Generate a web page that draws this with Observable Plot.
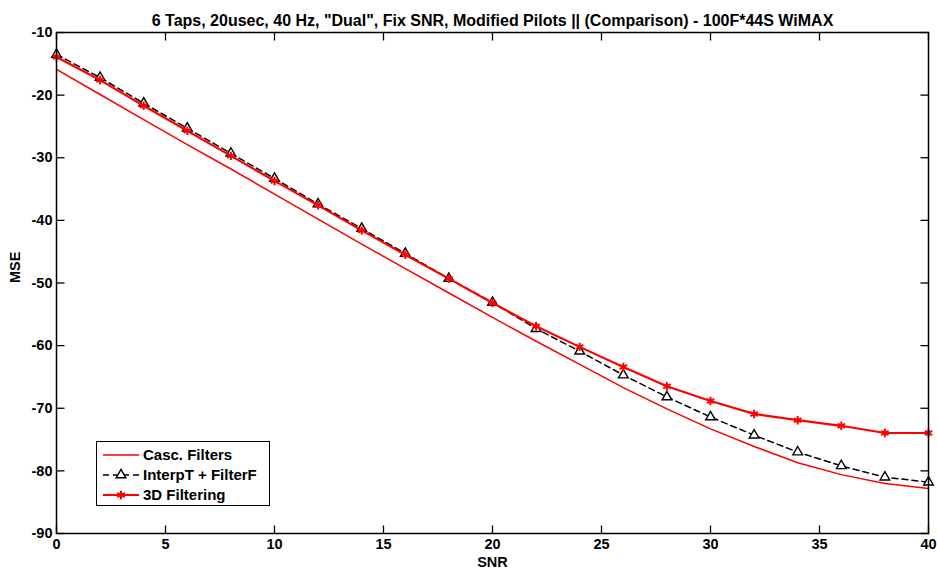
<!DOCTYPE html>
<html><head><meta charset="utf-8">
<script src="https://cdn.jsdelivr.net/npm/d3@7"></script>
<script src="https://cdn.jsdelivr.net/npm/@observablehq/plot@0.6"></script>
<style>
body{margin:0;background:#fff;}
#wrap{position:relative;width:937px;height:575px;font-family:"Liberation Sans",Arial,sans-serif;}
#legend{position:absolute;left:96px;top:441px;width:172px;height:63px;border:1.5px solid #000;background:#fff;font-weight:bold;font-size:15px;color:#000;}
.row{position:absolute;left:0;height:20px;width:172px;}
.row svg{position:absolute;left:0;top:0;}
.row span{position:absolute;left:46px;top:1px;line-height:18px;white-space:nowrap;}
</style></head><body>
<div id="wrap"><div id="legend"></div></div>
<script>
const snr = [0,2,4,6,8,10,12,14,16,18,20,22,24,26,28,30,32,34,36,38,40];
const cascMSE = [-15.9,-19.9,-23.9,-27.9,-31.8,-35.8,-39.8,-43.8,-47.7,-51.6,-55.5,-59.3,-63.0,-66.7,-70.1,-73.3,-76.1,-78.7,-80.6,-82.0,-82.8];
const interpMSE = [-13.5,-17.2,-21.3,-25.3,-29.3,-33.3,-37.4,-41.3,-45.3,-49.3,-53.1,-57.3,-60.9,-64.7,-68.2,-71.4,-74.3,-77.0,-79.2,-81.0,-81.8];
const filt3dMSE = [-13.9,-17.6,-21.7,-25.7,-29.7,-33.7,-37.6,-41.6,-45.5,-49.3,-53.2,-56.9,-60.2,-63.4,-66.5,-68.85,-70.9,-71.9,-72.8,-73.95,-73.95];
const xTicks = [0,5,10,15,20,25,30,35,40];
const yTicks = [-90,-80,-70,-60,-50,-40,-30,-20,-10];
const seriesNames = ["Casc. Filters","InterpT + FilterF","3D Filtering"];
const titleText = '6 Taps, 20usec, 40 Hz, "Dual", Fix SNR, Modified Pilots || (Comparison) - 100F*44S WiMAX';
const xLabel = "SNR";
const yLabel = "MSE";

const casc = snr.map((x,i)=>({x, y: cascMSE[i]}));
const interp = snr.map((x,i)=>({x, y: interpMSE[i]}));
const filt3d = snr.map((x,i)=>({x, y: filt3dMSE[i]}));

const TL = 8;
const tickUp = {draw(c){c.moveTo(0,0);c.lineTo(0,-TL);}};
const tickDown = {draw(c){c.moveTo(0,0);c.lineTo(0,TL);}};
const tickRight = {draw(c){c.moveTo(0,0);c.lineTo(TL,0);}};
const tickLeft = {draw(c){c.moveTo(0,0);c.lineTo(-TL,0);}};

const chart = Plot.plot({
  width: 937, height: 575,
  marginLeft: 56, marginRight: 9, marginTop: 32, marginBottom: 42,
  style: {fontFamily: '"Liberation Sans", Arial, sans-serif', fontSize: "14.5px", fontWeight: "bold", color: "#000", background: "#fff", overflow: "visible"},
  x: {domain: [0, 40]},
  y: {domain: [-90, -10]},
  marks: [
    Plot.line(casc, {x: "x", y: "y", stroke: "#ff0000", strokeWidth: 1.5}),
    Plot.line(interp, {x: "x", y: "y", stroke: "#000", strokeWidth: 1.5, strokeDasharray: "6,4"}),
    Plot.dot(interp, {x: "x", y: "y", symbol: "triangle", r: 3.6, stroke: "#000", fill: "#fff", strokeWidth: 1.4}),
    Plot.line(filt3d, {x: "x", y: "y", stroke: "#ff0000", strokeWidth: 2.2}),
    Plot.dot(filt3d, {x: "x", y: "y", symbol: "asterisk", r: 4, stroke: "#ff0000", strokeWidth: 2}),
    Plot.frame({stroke: "#000", strokeWidth: 1.5}),
    Plot.dot(xTicks, {x: d=>d, frameAnchor: "bottom", symbol: tickUp, stroke: "#000", strokeWidth: 1.3}),
    Plot.dot(xTicks, {x: d=>d, frameAnchor: "top", symbol: tickDown, stroke: "#000", strokeWidth: 1.3}),
    Plot.dot(yTicks, {y: d=>d, frameAnchor: "left", symbol: tickRight, stroke: "#000", strokeWidth: 1.3}),
    Plot.dot(yTicks, {y: d=>d, frameAnchor: "right", symbol: tickLeft, stroke: "#000", strokeWidth: 1.3}),
    Plot.axisX({ticks: xTicks, tickSize: 0, tickPadding: 5, label: null, tickFormat: d=>String(d)}),
    Plot.axisY({ticks: yTicks, tickSize: 0, tickPadding: 4, label: null, tickFormat: d=>String(d)}),
    Plot.text([xLabel], {text: d=>d, frameAnchor: "bottom", dy: 33}),
    Plot.text([yLabel], {text: d=>d, frameAnchor: "left", dx: -41, rotate: -90}),
    Plot.text([titleText], {text: d=>d, frameAnchor: "top", dy: -18, fontSize: 16})
  ]
});
const wrap = document.getElementById("wrap");
wrap.insertBefore(chart, wrap.firstChild);

// legend
const legend = d3.select("#legend");
const rowsY = [3, 23, 43];
const sampleStyles = [
  {stroke: "#ff0000", width: 1.5, dash: null, marker: null},
  {stroke: "#000", width: 1.5, dash: "6,4", marker: "triangle"},
  {stroke: "#ff0000", width: 2.2, dash: null, marker: "asterisk"}
];
seriesNames.forEach((name, i) => {
  const row = legend.append("div").attr("class", "row").style("top", rowsY[i] + "px");
  const s = sampleStyles[i];
  const svg = row.append("svg").attr("width", 46).attr("height", 20);
  svg.append("line").attr("x1", 6).attr("x2", 42).attr("y1", 10).attr("y2", 10)
    .attr("stroke", s.stroke).attr("stroke-width", s.width).attr("stroke-dasharray", s.dash);
  if (s.marker === "triangle") {
    svg.append("path").attr("transform", "translate(24,10)")
      .attr("d", d3.symbol(d3.symbolTriangle, 3.6*3.6*Math.PI)())
      .attr("fill", "#fff").attr("stroke", "#000").attr("stroke-width", 1.4);
  } else if (s.marker === "asterisk") {
    svg.append("path").attr("transform", "translate(24,10)")
      .attr("d", d3.symbol(d3.symbolAsterisk, 4*4*Math.PI)())
      .attr("fill", "none").attr("stroke", "#ff0000").attr("stroke-width", 2);
  }
  row.append("span").text(name);
});
</script>
</body></html>
